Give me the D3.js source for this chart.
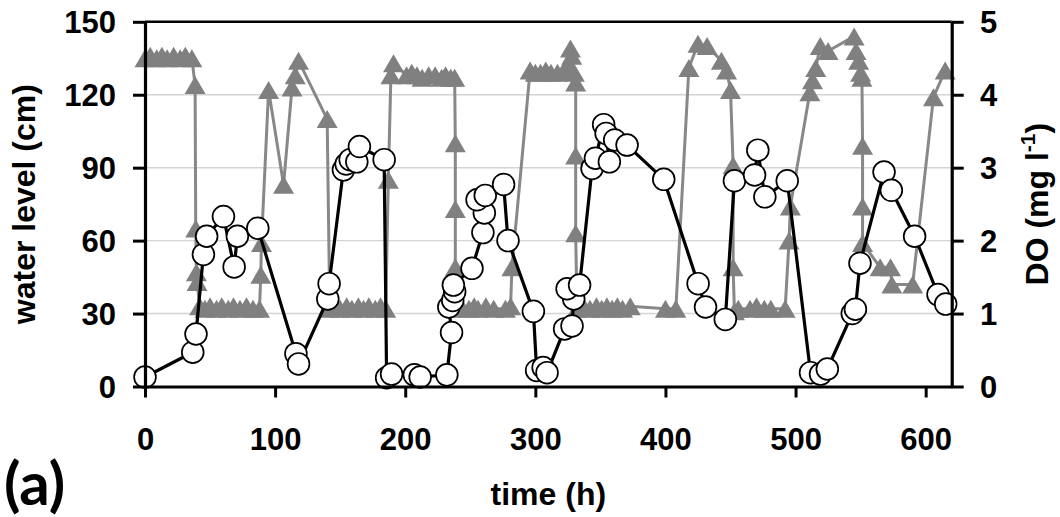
<!DOCTYPE html>
<html>
<head>
<meta charset="utf-8">
<script src="https://cdn.jsdelivr.net/npm/d3@7"></script>
<style>
  body { margin: 0; background: #fff; }
  svg { display: block; font-family: "Liberation Sans", Arial, sans-serif; font-weight: bold; }
</style>
</head>
<body>
<svg id="chart"></svg>
<script>
const width = 1060
const height = 517
const margin = { top: 21.8, right: 108.3, bottom: 130.5, left: 145 }

// tick labels
const timeTicks = [0, 100, 200, 300, 400, 500, 600]
const levelTicks = [0, 30, 60, 90, 120, 150]
const doTicks = [0, 1, 2, 3, 4, 5]

// water level (cm), grey triangles, left axis
const wlTime = [
  0, 4, 9, 13, 17, 22, 27, 31, 36, 38.5, 39, 39.5, 40,
  42, 46, 50, 55, 59, 64, 68, 73, 78, 83, 88, 89, 89.5,
  95, 106.5, 113, 115.5, 118, 140,
  142, 146, 150, 155, 159, 164, 168, 172, 177, 181, 185, 187, 189, 191,
  201, 205, 209, 213, 218, 223, 228, 231, 235, 238, 238.5, 238.5, 238.5,
  240, 243, 249, 253, 256, 262, 268, 277, 281, 282,
  296, 300, 304, 308, 312, 317, 322, 325, 327, 328, 330, 331, 331, 331,
  332, 337, 342, 347, 351, 355, 359, 363, 367, 373, 400, 408,
  418, 425, 432, 443, 447, 450, 452, 452,
  453, 456, 465, 470, 476, 481, 492, 495, 496,
  511, 513, 515.5, 519, 525, 545, 546.5, 548.5, 550, 551, 551.5, 551.5, 551.5,
  565, 573, 574, 590, 606, 615
]
const wlLevel = [
  135, 136, 135, 136, 135, 136, 135, 136, 135, 124, 65, 47, 43,
  33, 32, 33, 32, 33, 32, 33, 32, 33, 32, 32, 46, 59,
  122, 83, 123, 128, 134, 110,
  32, 33, 32, 33, 32, 33, 32, 33, 32, 33, 32, 85, 128, 133,
  128, 129, 128, 127, 128, 128, 127, 128, 127, 127, 100, 73, 49,
  32, 33, 32, 33, 32, 33, 32, 32, 33, 49,
  130, 129, 129, 130, 129, 129, 130, 132, 139, 136, 129, 125, 95, 63,
  32, 33, 32, 33, 32, 33, 32, 33, 32, 33, 32, 32,
  131, 141, 140, 134, 130, 122, 91, 49,
  31, 32, 32, 33, 32, 32, 32, 60, 74,
  121, 126, 131, 140, 138, 144, 138, 134, 129, 127, 99, 74, 59,
  49, 49, 42, 42, 119, 130
]

// dissolved oxygen (mg/l), white circles, right axis
const doTime = [
  0, 36.7, 39.2, 44.9, 47.4, 60.3, 68.5, 71, 86.7, 116, 118, 140.5, 141.5,
  152.5, 154.6, 157.7, 162.8, 164.8, 183.8, 185.7, 189.5, 207, 211.5,
  232, 235.6, 233.5, 236.5, 238, 237, 251.3, 259.7, 260.8, 255.2, 261.5, 275.6, 279,
  298.5, 301, 306, 309, 322.5, 328.2, 329.5, 324.4, 334,
  343.6, 346.2, 352.5, 354.4, 356.9, 361, 370.5, 398.7, 425.1, 430.8, 446,
  453, 468.5, 471, 476.4, 493.6, 511.5, 519.2, 524.4,
  543.6, 546, 549.5, 568, 573.6, 591.5, 609.5, 615.4
]
const doValue = [
  0.13, 0.47, 0.72, 1.81, 2.06, 2.33, 1.64, 2.06, 2.17, 0.45, 0.31, 1.2, 1.41,
  2.97, 3.05, 3.11, 3.08, 3.29, 3.11, 0.12, 0.17, 0.16, 0.13,
  0.16, 0.74, 1.09, 1.18, 1.3, 1.39, 1.62, 2.11, 2.38, 2.56, 2.62, 2.77, 2.0,
  1.03, 0.22, 0.26, 0.19, 0.79, 0.83, 1.2, 1.34, 1.39,
  2.99, 3.13, 3.59, 3.47, 3.08, 3.38, 3.31, 2.84, 1.41, 1.09, 0.92,
  2.82, 2.9, 3.24, 2.6, 2.82, 0.19, 0.17, 0.24,
  1.0, 1.06, 1.69, 2.94, 2.69, 2.06, 1.26, 1.13
]

const levelData = d3.zip(wlTime, wlLevel)
const doData = d3.zip(doTime, doValue)

const x = d3.scaleLinear()
  .domain([0, 620])
  .range([margin.left, width - margin.right])
const yLeft = d3.scaleLinear()
  .domain([0, 150])
  .range([height - margin.bottom, margin.top])
const yRight = d3.scaleLinear()
  .domain([0, 5])
  .range([height - margin.bottom, margin.top])

const svg = d3.select('#chart')
  .attr('width', width)
  .attr('height', height)

svg.append('rect')
  .attr('width', width)
  .attr('height', height)
  .attr('fill', '#fff')

// horizontal grid
svg.append('g')
  .selectAll('line')
  .data(levelTicks.slice(1, -1))
  .join('line')
  .attr('x1', x.range()[0])
  .attr('x2', x.range()[1])
  .attr('y1', d => yLeft(d))
  .attr('y2', d => yLeft(d))
  .attr('stroke', '#d4d4d4')
  .attr('stroke-width', 1.4)

// top frame line
svg.append('line')
  .attr('x1', x.range()[0])
  .attr('x2', x.range()[1])
  .attr('y1', yLeft(150))
  .attr('y2', yLeft(150))
  .attr('stroke', '#000')
  .attr('stroke-width', 2.6)

// water level series
svg.append('path')
  .datum(levelData)
  .attr('fill', 'none')
  .attr('stroke', '#888')
  .attr('stroke-width', 3)
  .attr('stroke-linejoin', 'round')
  .attr('d', d3.line().x(d => x(d[0])).y(d => yLeft(d[1])))

const triW = 21
const triH = 18
svg.append('g')
  .selectAll('path')
  .data(levelData)
  .join('path')
  .attr('d', `M0,${-triH / 2}L${triW / 2},${triH / 2}L${-triW / 2},${triH / 2}Z`)
  .attr('transform', d => `translate(${x(d[0])},${yLeft(d[1])})`)
  .attr('fill', '#808080')

// DO series
svg.append('path')
  .datum(doData)
  .attr('fill', 'none')
  .attr('stroke', '#000')
  .attr('stroke-width', 3.2)
  .attr('stroke-linejoin', 'round')
  .attr('d', d3.line().x(d => x(d[0])).y(d => yRight(d[1])))

svg.append('g')
  .selectAll('circle')
  .data(doData)
  .join('circle')
  .attr('cx', d => x(d[0]))
  .attr('cy', d => yRight(d[1]))
  .attr('r', 10.9)
  .attr('fill', '#fff')
  .attr('stroke', '#000')
  .attr('stroke-width', 1.7)

// axes
const styleAxis = g => {
  g.select('.domain').attr('stroke-width', 3.2)
  g.selectAll('.tick line').attr('stroke-width', 3)
  g.selectAll('.tick text')
    .attr('fill', '#000')
    .style('font-size', '31px')
    .style('font-family', '"Liberation Sans", Arial, sans-serif')
    .style('font-weight', 'bold')
}

svg.append('g')
  .attr('transform', `translate(0,${height - margin.bottom})`)
  .call(d3.axisBottom(x).tickValues(timeTicks).tickFormat(d3.format('d'))
    .tickSize(11).tickSizeOuter(0).tickPadding(30.5))
  .call(styleAxis)

svg.append('g')
  .attr('transform', `translate(${margin.left},0)`)
  .call(d3.axisLeft(yLeft).tickValues(levelTicks).tickFormat(d3.format('d'))
    .tickSize(12).tickSizeOuter(0).tickPadding(17))
  .call(styleAxis)
  .call(g => g.selectAll('.tick text').attr('dy', '0.36em'))

svg.append('g')
  .attr('transform', `translate(${width - margin.right},0)`)
  .call(d3.axisRight(yRight).tickValues(doTicks).tickFormat(d3.format('d'))
    .tickSize(12).tickSizeOuter(0).tickPadding(16.3))
  .call(styleAxis)
  .call(g => g.selectAll('.tick text').attr('dy', '0.36em'))

// titles
svg.append('text')
  .attr('transform', `translate(35,${(yLeft(0) + yLeft(150)) / 2}) rotate(-90)`)
  .attr('text-anchor', 'middle')
  .style('font-size', '32px')
  .text('water level (cm)')

const doTitle = svg.append('text')
  .attr('transform', `translate(1048,${(yLeft(0) + yLeft(150)) / 2}) rotate(-90)`)
  .attr('text-anchor', 'middle')
  .style('font-size', '32px')
doTitle.append('tspan').text('DO (mg l')
doTitle.append('tspan').attr('dy', -13).style('font-size', '21px').text('-1')
doTitle.append('tspan').attr('dy', 13).text(')')

svg.append('text')
  .attr('x', (x.range()[0] + x.range()[1]) / 2)
  .attr('y', 505)
  .attr('text-anchor', 'middle')
  .style('font-size', '32px')
  .text('time (h)')

svg.append('text')
  .attr('x', 4)
  .attr('y', 505)
  .style('font-family', 'Lato, "Open Sans", sans-serif')
  .style('font-size', '60px')
  .text('(a)')
</script>
</body>
</html>
